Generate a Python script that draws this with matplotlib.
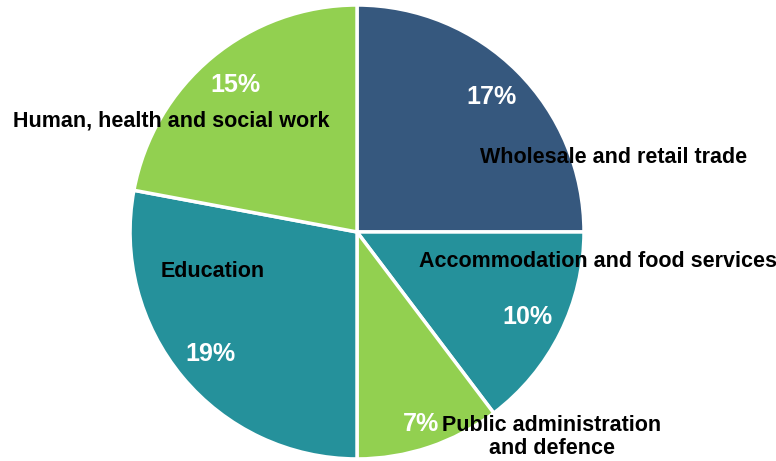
import numpy as np
import matplotlib.pyplot as plt

plt.rcParams['font.family'] = ['Liberation Sans', 'DejaVu Sans']

sectors = ['Wholesale and retail trade', 'Accommodation and food services',
           'Public administration\nand defence', 'Education',
           'Human, health and social work']
shares = [17, 10, 7, 19, 15]
colors = ['#36587E', '#25919B', '#92D050', '#25919B', '#92D050']

# label positions (data units, pie radius = 1)
label_xy = [(1.132, 0.330), (1.062, -0.132), (0.859, -0.903),
            (-0.634, -0.176), (-0.819, 0.489)]
# radial distance of each percentage label
pct_r = [0.84, 0.84, 0.89, 0.84, 0.84]

fig = plt.figure(figsize=(7.76, 4.61), dpi=100)
ax = fig.add_axes([0, 0, 1, 1])

wedges, texts, autotexts = ax.pie(
    shares, colors=colors, startangle=90, counterclock=False,
    autopct=lambda p: f'{p * sum(shares) / 100:.0f}%', pctdistance=0.84,
    wedgeprops=dict(edgecolor='white', linewidth=2.5),
    textprops=dict(color='white', fontsize=18, fontweight='bold'))

for w, t, r in zip(wedges, autotexts, pct_r):
    ang = np.deg2rad((w.theta1 + w.theta2) / 2)
    t.set_position((r * np.cos(ang), r * np.sin(ang)))

for name, (x, y) in zip(sectors, label_xy):
    ax.text(x, y, name, ha='center', va='center', fontsize=15.5,
            fontweight='bold', color='black', linespacing=1.1)

ax.set_aspect('equal')
ax.set_xlim(-1.573, 1.846)
ax.set_ylim(-1.009, 1.022)
ax.axis('off')

plt.savefig('out.png', dpi=100)
